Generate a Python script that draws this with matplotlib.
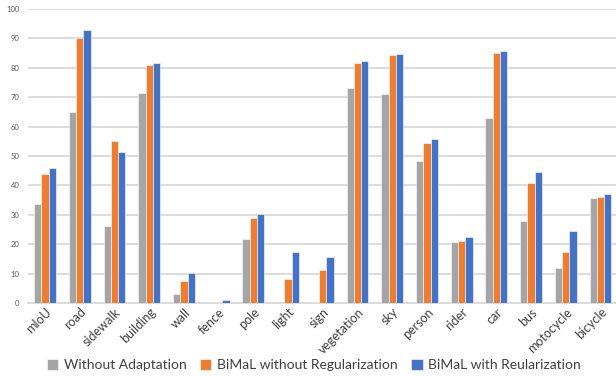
import numpy as np
import matplotlib.pyplot as plt

categories = ['mIoU', 'road', 'sidewalk', 'building', 'wall', 'fence', 'pole', 'light', 'sign',
              'vegetation', 'sky', 'person', 'rider', 'car', 'bus', 'motocycle', 'bicycle']
without_adapt = [33.8, 65.0, 26.3, 71.6, 3.0, 0.3, 21.8, 0.0, 0.3, 73.2, 71.0, 48.4, 20.9, 63.0, 28.0, 12.0, 35.6]
bimal_no_reg = [44.0, 90.3, 55.0, 81.1, 7.6, 0.5, 28.9, 8.1, 11.4, 81.6, 84.2, 54.3, 21.0, 85.1, 40.9, 17.3, 36.0]
bimal_reg = [46.1, 92.9, 51.5, 81.6, 10.2, 0.9, 30.4, 17.5, 15.8, 82.4, 84.6, 55.8, 22.4, 85.7, 44.5, 24.6, 37.0]

series = [
    ('Without Adaptation', without_adapt, '#A5A5A5'),
    ('BiMaL without Regularization', bimal_no_reg, '#ED7D31'),
    ('BiMaL with Reularization', bimal_reg, '#4472C4'),
]

plt.rcParams['font.family'] = ['Lato', 'DejaVu Sans']

fig = plt.figure(figsize=(6.16, 3.76), dpi=100)
ax = fig.add_axes([0.045, 0.194, 0.958, 0.782])

x = np.arange(len(categories))
w = 0.21
for i, (name, vals, col) in enumerate(series):
    ax.bar(x + (i - 1) * w, vals, w, color=col, edgecolor='white', linewidth=0.4, label=name, zorder=3)

ax.set_xlim(-0.5, len(categories) - 0.5)
ax.set_ylim(0, 100)
ax.set_yticks(range(0, 101, 10))
ax.yaxis.grid(True, color='#D9D9D9', linewidth=1.3, zorder=0)
ax.set_axisbelow(True)
for s in ['top', 'right', 'left']:
    ax.spines[s].set_visible(False)
ax.spines['bottom'].set_color('#D9D9D9')
ax.spines['bottom'].set_linewidth(1.3)
ax.tick_params(axis='y', length=0, labelsize=5.5, labelcolor='#595959', pad=6)
ax.tick_params(axis='x', length=0, labelsize=9, labelcolor='#404040', pad=2)
ax.set_xticks(x)
ax.set_xticklabels(categories, rotation=45, ha='right', rotation_mode='anchor')

ax.legend(loc='lower center', bbox_to_anchor=(0.485, -0.275), ncol=3, frameon=False,
          fontsize=10, handlelength=0.8, handleheight=0.8, columnspacing=1.0, handletextpad=0.4,
          labelcolor='#404040')

fig.savefig('out.png', dpi=100)
